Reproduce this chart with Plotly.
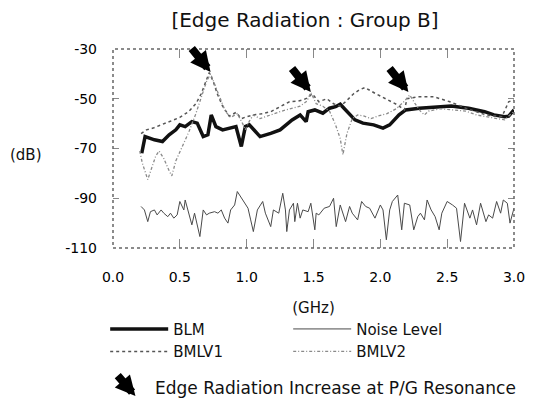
import plotly.graph_objects as go

# ---------------- data ----------------
blm_x = [0.215, 0.24, 0.31, 0.37, 0.42, 0.47, 0.50, 0.54, 0.59, 0.63, 0.675, 0.71, 0.735, 0.77,
         0.82, 0.88, 0.92, 0.96, 0.99, 1.02, 1.10, 1.18, 1.25, 1.34, 1.40, 1.445, 1.46, 1.51,
         1.57, 1.62, 1.665, 1.70, 1.75, 1.81, 1.87, 1.95, 2.02, 2.07, 2.14, 2.19, 2.29, 2.41,
         2.53, 2.66, 2.78, 2.85, 2.93, 2.96, 3.0]
blm_y = [-71.9, -65.2, -66.5, -67.2, -64.5, -62.5, -60.5, -61.2, -59.2, -59.8, -65.2, -64.5, -56.5, -61.2,
         -62.5, -61.8, -61.2, -69.2, -61.2, -60.5, -65.2, -63.9, -62.5, -58.5, -56.5, -59.2, -55.2, -54.5,
         -55.8, -53.8, -53.2, -52.2, -55.2, -58.5, -59.8, -60.5, -61.8, -60.5, -56.5, -54.5, -53.8, -53.2,
         -52.9, -53.8, -55.2, -56.5, -57.2, -57.0, -54.5]

bmlv1_x = [0.21, 0.25, 0.30, 0.36, 0.44, 0.50, 0.565, 0.62, 0.66, 0.70, 0.72, 0.75, 0.78, 0.82,
           0.87, 0.92, 0.96, 1.0, 1.05, 1.12, 1.18, 1.25, 1.32, 1.38, 1.42, 1.46, 1.49, 1.54,
           1.60, 1.65, 1.70, 1.74, 1.80, 1.84, 1.885, 1.96, 2.06, 2.13, 2.18, 2.20, 2.28, 2.40,
           2.52, 2.64, 2.79, 2.91, 2.96, 3.0]
bmlv1_y = [-64.0, -62.5, -61.8, -60.5, -58.5, -57.5, -55.2, -52.0, -48.0, -42.0, -39.5, -43.0, -48.0, -53.0,
           -57.0, -55.5, -58.0, -57.2, -56.5, -56.0, -55.2, -53.2, -51.2, -51.0, -50.5, -49.5, -48.0, -51.2,
           -50.0, -52.0, -53.0, -51.2, -48.0, -46.5, -45.5, -47.8, -50.5, -52.5, -54.5, -50.0, -49.2, -49.2,
           -51.2, -53.8, -56.5, -57.2, -51.2, -50.5]

bmlv2_x = [0.20, 0.22, 0.26, 0.29, 0.32, 0.345, 0.38, 0.42, 0.44, 0.47, 0.52, 0.57, 0.62, 0.66,
           0.70, 0.73, 0.76, 0.80, 0.84, 0.88, 0.93, 0.97, 0.99, 1.02, 1.05, 1.10, 1.15, 1.20,
           1.26, 1.33, 1.40, 1.45, 1.48, 1.52, 1.57, 1.62, 1.665, 1.70, 1.72, 1.75, 1.79, 1.83,
           1.88, 1.93, 1.98, 2.05, 2.12, 2.18, 2.22, 2.26, 2.30, 2.33, 2.36, 2.45, 2.55, 2.64,
           2.72, 2.84, 2.93, 3.0]
bmlv2_y = [-71.0, -76.0, -82.5, -78.0, -73.0, -71.0, -74.0, -79.0, -81.0, -75.0, -69.0, -63.0, -56.0, -49.0,
           -43.0, -40.0, -44.0, -50.0, -55.0, -57.5, -56.0, -60.0, -62.5, -59.0, -56.5, -58.0, -57.0, -56.0,
           -55.0, -54.0, -53.0, -51.0, -47.5, -52.0, -53.0, -55.0, -60.5, -66.0, -72.5, -64.0, -58.0, -56.5,
           -57.0, -58.0, -57.0, -56.0, -54.0, -51.0, -48.5, -52.0, -55.0, -56.5, -55.0, -54.0, -54.5, -55.0,
           -56.5, -57.8, -58.5, -55.0]

noise_x = [0.21, 0.235, 0.26, 0.28, 0.31, 0.33, 0.36, 0.38, 0.41, 0.43, 0.455, 0.48, 0.50, 0.53,
           0.54, 0.565, 0.59, 0.61, 0.64, 0.65, 0.675, 0.70, 0.72, 0.76, 0.785, 0.81, 0.835, 0.86,
           0.88, 0.91, 0.93, 0.97, 1.01, 1.03, 1.05, 1.08, 1.12, 1.14, 1.18, 1.20, 1.24, 1.27,
           1.29, 1.30, 1.32, 1.35, 1.36, 1.38, 1.40, 1.42, 1.46, 1.48, 1.51, 1.52, 1.54, 1.58,
           1.62, 1.65, 1.67, 1.70, 1.74, 1.77, 1.79, 1.83, 1.86, 1.89, 1.92, 1.96, 2.00, 2.02,
           2.045, 2.07, 2.09, 2.13, 2.16, 2.18, 2.22, 2.25, 2.28, 2.30, 2.33, 2.35, 2.38, 2.41,
           2.44, 2.46, 2.50, 2.54, 2.57, 2.60, 2.63, 2.67, 2.69, 2.72, 2.75, 2.79, 2.81, 2.84,
           2.87, 2.90, 2.92, 2.95, 2.97, 3.0]
noise_y = [-93.3, -94.7, -99.4, -95.4, -94.7, -96.7, -94.7, -96.0, -97.4, -96.0, -98.0, -96.7, -91.3, -94.7,
           -90.7, -96.0, -100.7, -96.0, -103.4, -105.4, -94.7, -96.7, -96.0, -95.4, -96.0, -94.7, -98.0, -100.0,
           -94.7, -92.7, -87.3, -90.7, -94.0, -98.7, -103.4, -94.7, -91.3, -96.0, -101.4, -94.7, -96.0, -88.0,
           -94.7, -103.4, -94.7, -92.0, -99.4, -92.0, -98.0, -94.7, -95.4, -92.0, -102.7, -96.0, -96.7, -94.0,
           -93.3, -90.0, -101.4, -92.7, -99.4, -93.3, -96.0, -98.7, -91.3, -93.3, -94.0, -98.0, -92.7, -94.7,
           -106.7, -94.7, -91.3, -88.7, -102.7, -92.0, -92.7, -102.7, -97.4, -96.0, -98.7, -90.7, -94.7, -97.4,
           -102.7, -96.0, -91.3, -92.7, -94.0, -107.4, -92.0, -98.0, -94.7, -100.7, -92.0, -99.4, -96.7, -98.0,
           -91.3, -96.0, -90.7, -92.0, -100.0, -94.0]

x_ticks = [0.0, 0.5, 1.0, 1.5, 2.0, 2.5, 3.0]
y_ticks = [-30, -50, -70, -90, -110]
y_tick_text = ["-30", "-50", "-70", "-90", "-110"]

# resonance arrows (tip positions)
res_x = [0.73, 1.48, 2.21]
res_y = [-39.2, -47.3, -47.3]

title = "[Edge Radiation : Group B]"
FONT = "DejaVu Sans, Verdana, sans-serif"

fig = go.Figure()
fig.add_trace(go.Scatter(x=blm_x, y=blm_y, name="BLM", mode="lines",
                         line=dict(color="#111111", width=3.5)))
fig.add_trace(go.Scatter(x=noise_x, y=noise_y, name="Noise Level", mode="lines",
                         line=dict(color="#4a4a4a", width=1)))
fig.add_trace(go.Scatter(x=bmlv1_x, y=bmlv1_y, name="BMLV1", mode="lines",
                         line=dict(color="#555555", width=1.5, dash="dot")))
fig.add_trace(go.Scatter(x=bmlv2_x, y=bmlv2_y, name="BMLV2", mode="lines",
                         line=dict(color="#8a8a8a", width=1.3, dash="3px,2px,1px,2px")))

for xx, yy in zip(res_x, res_y):
    fig.add_annotation(x=xx, y=yy, xref="x", yref="y", text="", showarrow=True,
                       arrowhead=2, arrowsize=0.5, arrowwidth=8, arrowcolor="#000000",
                       ax=-20, ay=-25, standoff=0)

# legend arrow + text
fig.add_annotation(x=0.056, y=-0.744, xref="paper", yref="paper", text="", showarrow=True,
                   arrowhead=2, arrowsize=0.5, arrowwidth=8, arrowcolor="#000000",
                   ax=-19, ay=-22, standoff=0)
fig.add_annotation(x=0.1, y=-0.703, xref="paper", yref="paper",
                   text="Edge Radiation Increase at P/G Resonance", showarrow=False,
                   xanchor="left", yanchor="middle", font=dict(size=17, color="#111111", family=FONT))

# axis unit label (dB)
fig.add_annotation(x=-0.171, y=0.467, xref="paper", yref="paper", text="(dB)", showarrow=False,
                   xanchor="right", yanchor="middle", font=dict(size=15, color="#111111", family=FONT))

# dotted frame
fig.add_shape(type="rect", xref="paper", yref="paper", x0=0, y0=0, x1=1, y1=1,
              line=dict(color="#666666", width=1.5, dash="dot"), layer="above")

fig.update_layout(
    width=537, height=398,
    margin=dict(l=113, r=15, t=49, b=150),
    paper_bgcolor="white", plot_bgcolor="white",
    title=dict(text=title, x=0.568, xanchor="center", y=0.951, yanchor="middle",
               font=dict(size=20, color="#111111", family=FONT)),
    font=dict(family=FONT, color="#111111"),
    showlegend=True,
    legend=dict(orientation="h", x=-0.0195, xanchor="left", y=-0.325, yanchor="top",
                entrywidth=110, entrywidthmode="pixels", itemwidth=58,
                font=dict(size=15, color="#111111", family=FONT),
                tracegroupgap=0, bgcolor="rgba(0,0,0,0)"),
    xaxis=dict(range=[0, 3], tickvals=x_ticks, tickformat=".1f", showgrid=False, zeroline=False,
               ticks="inside", ticklen=9, tickcolor="#888888", tickwidth=1, mirror="ticks",
               showline=False, ticklabelstandoff=19,
               title=dict(text="(GHz)", standoff=18, font=dict(size=15, color="#111111", family=FONT)),
               tickfont=dict(size=14, color="#000000", family=FONT)),
    yaxis=dict(range=[-110, -30], tickvals=y_ticks, ticktext=y_tick_text, showgrid=False, zeroline=False,
               ticks="inside", ticklen=6, tickcolor="#888888", tickwidth=1, mirror="ticks",
               showline=False, ticklabelstandoff=15,
               tickfont=dict(size=14, color="#000000", family=FONT)),
)

fig.write_html("out.html")
